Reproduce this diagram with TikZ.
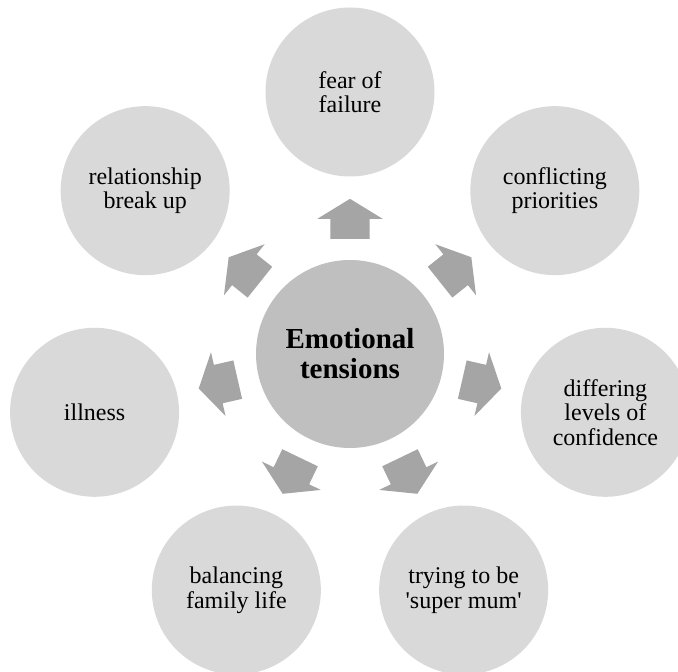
\documentclass[tikz,border=0pt]{standalone}
\usepackage{fontspec}
\setmainfont{Liberation Serif}
\usetikzlibrary{shapes.arrows,calc}
\definecolor{hubgray}{HTML}{BFBFBF}
\definecolor{topicgray}{HTML}{D9D9D9}
\definecolor{arrowgray}{HTML}{A5A5A5}
\tikzset{
    hub/.style = {circle, fill=hubgray, minimum size=188pt, inner sep=0pt,
        align=center, font=\fontsize{29}{30}\selectfont\bfseries},
    topic/.style = {circle, fill=topicgray, minimum size=169pt, inner sep=0pt,
        align=center, font=\fontsize{24}{24.5}\selectfont},
    blockarrow/.style = {single arrow, fill=arrowgray, minimum height=40pt,
        inner xsep=0pt, inner ysep=19.5pt, single arrow head extend=13pt,
        single arrow tip angle=117, sloped, allow upside down,
        anchor=tail, pos=0.25},
}

\begin{document}
\begin{tikzpicture}[x=1pt, y=1pt]
		\useasboundingbox (0,0) rectangle (678,672);
		% centre
		\node [hub] (tension) at (350,318) {Emotional\\tensions};
		
		% surrounding topics
		\node [topic] (fear) at ($(tension)+(90:262)$) {fear of\\failure};
		\node [topic] (priorities) at ($(tension)+(38.57:262)$) {conflicting\\priorities};
		\node [topic] (confidence) at ($(tension)+(-12.86:262)$) {differing\\levels of\\confidence};
		\node [topic] (supermum) at ($(tension)+(-64.29:262)$) {trying to be\\\textquotesingle super mum\textquotesingle};
		\node [topic] (family) at ($(tension)+(-115.71:262)$) {balancing\\family life};
		\node [topic] (illness) at ($(tension)+(-167.14:262)$) {illness};
		\node [topic] (breakup) at ($(tension)+(141.43:262)$) {relationship\\break up};
		
		% block arrows
		\path (tension) -- node [blockarrow] {} (fear);
		\path (tension) -- node [blockarrow] {} (priorities);
		\path (tension) -- node [blockarrow] {} (confidence);
		\path (tension) -- node [blockarrow] {} (supermum);
		\path (tension) -- node [blockarrow] {} (family);
		\path (tension) -- node [blockarrow] {} (illness);
		\path (tension) -- node [blockarrow] {} (breakup);
	\end{tikzpicture}
\end{document}
